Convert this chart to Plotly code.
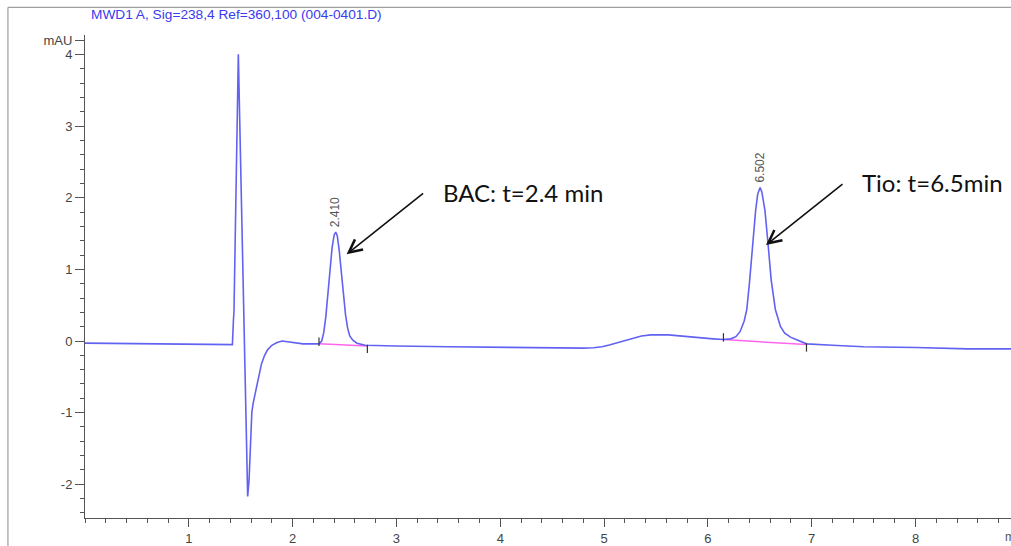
import plotly.graph_objects as go

# Chromatogram trace: retention time (min) and detector signal (mAU)
time_min = [
    0.00, 0.50, 1.00, 1.42, 1.43, 1.435, 1.477, 1.50, 1.535, 1.567,
    1.580, 1.595, 1.607, 1.618, 1.630, 1.650, 1.675, 1.70, 1.73, 1.76,
    1.80, 1.85, 1.90, 2.00, 2.10, 2.20, 2.254, 2.28, 2.30, 2.32,
    2.34, 2.36, 2.38, 2.40, 2.415, 2.43, 2.45, 2.47, 2.49, 2.51,
    2.53, 2.55, 2.58, 2.62, 2.70, 2.80, 3.00, 3.50, 4.00, 4.50,
    4.80, 4.90, 4.98, 5.05, 5.12, 5.20, 5.28, 5.36, 5.45, 5.54,
    5.62, 5.70, 5.80, 5.92, 6.05, 6.15, 6.22, 6.27, 6.31, 6.35,
    6.375, 6.40, 6.43, 6.46, 6.48, 6.503, 6.52, 6.55, 6.58, 6.61,
    6.65, 6.70, 6.74, 6.80, 6.85, 6.95, 7.20, 7.50, 8.00, 8.50,
    8.92,
]
signal_mau = [
    -0.03, -0.04, -0.05, -0.05, 0.30, 0.40, 4.00, 2.50, 0.00, -2.17,
    -1.95, -1.40, -1.00, -0.88, -0.80, -0.62, -0.45, -0.32, -0.20, -0.12,
    -0.06, -0.02, 0.00, -0.02, -0.04, -0.04, -0.04, 0.00, 0.12, 0.34,
    0.70, 1.03, 1.30, 1.48, 1.52, 1.47, 1.25, 0.95, 0.62, 0.36,
    0.18, 0.07, 0.01, -0.03, -0.06, -0.06, -0.07, -0.08, -0.09, -0.10,
    -0.10, -0.095, -0.08, -0.055, -0.025, 0.01, 0.045, 0.07, 0.085, 0.09,
    0.085, 0.075, 0.06, 0.045, 0.03, 0.02, 0.03, 0.06, 0.13, 0.28,
    0.44, 0.80, 1.35, 1.82, 2.05, 2.14, 2.08, 1.82, 1.35, 0.85,
    0.44, 0.20, 0.11, 0.05, 0.02, -0.04, -0.06, -0.08, -0.09, -0.11,
    -0.11,
]

# Integrated peaks: retention time, apex height, baseline start/end
peak_rt = [2.410, 6.502]
peak_height = [1.52, 2.14]
base_start_t = [2.254, 6.15]
base_start_v = [-0.04, 0.02]
base_end_t = [2.72, 6.95]
base_end_v = [-0.07, -0.05]

# Compound call-outs: label, arrow tip (time, signal)
compound_text = ["BAC: t=2.4 min", "Tio: t=6.5min"]
arrow_tip_t = [2.52, 6.56]
arrow_tip_v = [1.21, 1.34]

x_ticks = [1, 2, 3, 4, 5, 6, 7, 8]
y_ticks = [-2, -1, 0, 1, 2, 3, 4, 4.2]
y_tick_text = ["-2", "-1", "0", "1", "2", "3", "4", "mAU"]

title_text = "MWD1 A, Sig=238,4 Ref=360,100 (004-0401.D)"

fig = go.Figure()

# Integration baselines (pink)
for t0, v0, t1, v1 in zip(base_start_t, base_start_v, base_end_t, base_end_v):
    fig.add_trace(go.Scatter(
        x=[t0, t1], y=[v0, v1], mode="lines",
        line=dict(color="#ff66ee", width=1.5), hoverinfo="skip",
    ))

# Signal
fig.add_trace(go.Scatter(
    x=time_min, y=signal_mau, mode="lines",
    line=dict(color="#6262f2", width=1.6),
))

# Peak start / end tick marks
fig.add_trace(go.Scatter(
    x=base_start_t + base_end_t,
    y=[v + 0.03 for v in base_start_v] + [v - 0.04 for v in base_end_v],
    mode="markers",
    marker=dict(symbol="line-ns", size=6, line=dict(color="#333", width=1.2)),
    hoverinfo="skip",
))

# Retention time labels above apexes
for rt, h in zip(peak_rt, peak_height):
    fig.add_annotation(
        x=rt, y=h, text=f"{rt:.3f}", showarrow=False, textangle=-90,
        xanchor="center", yanchor="bottom", yshift=3,
        font=dict(family="Liberation Sans, Arial", size=12, color="#555"),
    )

# Arrows and compound labels
for txt, tx, ty in zip(compound_text, arrow_tip_t, arrow_tip_v):
    fig.add_annotation(
        x=tx, y=ty, ax=78, ay=-62, text="", showarrow=True,
        arrowhead=5, arrowsize=1.6, arrowwidth=1.6, arrowcolor="#111",
    )
    fig.add_annotation(
        x=tx, y=ty, text=txt, showarrow=False,
        xanchor="left", yanchor="middle", xshift=94, yshift=62,
        font=dict(family="Lato, Open Sans", size=24, color="#111"),
    )

# Unit label at the end of the time axis
fig.add_annotation(
    x=1.0, xref="paper", xanchor="left", xshift=-8,
    y=0, yref="paper", yanchor="top", yshift=-10,
    text="min", showarrow=False,
    font=dict(family="Liberation Sans, Arial", size=12, color="#555"),
)

# Signal description title
fig.add_annotation(
    x=0, xref="paper", xanchor="left", xshift=4,
    y=1, yref="paper", yanchor="bottom", yshift=11,
    text=title_text, showarrow=False,
    font=dict(family="Liberation Sans, Arial", size=13.7, color="#3a3af0"),
)

# Outer frame
fig.add_shape(
    type="rect", xref="paper", yref="paper",
    x0=-0.0832, x1=1.05, y0=-0.08, y1=1.0573,
    line=dict(color="#8a8a8a", width=1), layer="below",
)

axis_font = dict(family="Liberation Sans, Arial", size=13, color="#444")

fig.update_layout(
    width=1011, height=546,
    margin=dict(l=85, r=0, t=35, b=22),
    paper_bgcolor="white", plot_bgcolor="white",
    showlegend=False,
    xaxis=dict(
        range=[0, 8.92], tickvals=x_ticks, ticks="outside", ticklen=8,
        tickcolor="#555", tickwidth=1, showline=True, linecolor="#555",
        linewidth=1, showgrid=False, zeroline=False, tickfont=axis_font,
        minor=dict(dtick=0.2, tick0=0, ticks="outside", ticklen=4,
                   tickcolor="#555", showgrid=False),
    ),
    yaxis=dict(
        range=[-2.47, 4.27], tickvals=y_ticks, ticktext=y_tick_text,
        ticks="outside", ticklen=9, tickcolor="#555", tickwidth=1,
        showline=True, linecolor="#555", linewidth=1, showgrid=False,
        zeroline=False, tickfont=axis_font,
        minor=dict(dtick=0.2, tick0=0, ticks="outside", ticklen=4,
                   tickcolor="#555", showgrid=False),
    ),
)

fig.write_html("out.html")
